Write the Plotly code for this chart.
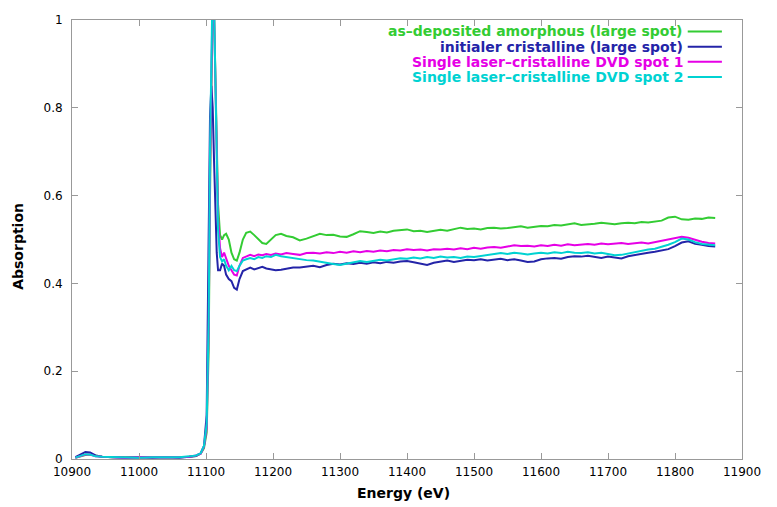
import plotly.graph_objects as go

# ---- data ----
energy_edge = [10905, 10912, 10920, 10927, 10935, 10945, 10960, 10980, 11000, 11020,
               11040, 11060, 11075, 11085, 11092, 11097, 11101, 11104, 11106, 11108,
               11110, 11112, 11114, 11116, 11118, 11121, 11124, 11127, 11130, 11134,
               11138, 11142, 11146, 11150, 11155, 11160, 11166, 11172, 11178, 11184,
               11190, 11197, 11204, 11212, 11220, 11230]
energy_post = list(range(11240, 11861, 10))
energy = energy_edge + energy_post

amorphous = [0.003, 0.006, 0.009, 0.010, 0.007, 0.005, 0.004, 0.004, 0.003, 0.004,
             0.003, 0.004, 0.005, 0.007, 0.012, 0.025, 0.06, 0.25, 0.6, 0.9,
             1.06, 1.02, 0.88, 0.72, 0.58, 0.51, 0.5, 0.51, 0.513, 0.5,
             0.47, 0.455, 0.452, 0.47, 0.5, 0.515, 0.518, 0.51, 0.5, 0.492,
             0.49, 0.5, 0.51, 0.513, 0.508, 0.505,
             0.498, 0.502, 0.508, 0.513, 0.510, 0.511, 0.507, 0.506, 0.512, 0.519,
             0.517, 0.515, 0.518, 0.516, 0.520, 0.521, 0.523, 0.519, 0.520, 0.517,
             0.519, 0.522, 0.520, 0.524, 0.527, 0.524, 0.525, 0.523, 0.526, 0.527,
             0.525, 0.526, 0.528, 0.530, 0.527, 0.529, 0.531, 0.530, 0.533, 0.532,
             0.535, 0.537, 0.533, 0.534, 0.536, 0.538, 0.536, 0.535, 0.537, 0.538,
             0.537, 0.540, 0.539, 0.541, 0.543, 0.550, 0.552, 0.546, 0.545, 0.548,
             0.547, 0.550, 0.549]

initial = [0.004, 0.010, 0.016, 0.015, 0.008, 0.005, 0.004, 0.003, 0.004, 0.003,
           0.004, 0.003, 0.005, 0.007, 0.013, 0.03, 0.1, 0.45, 0.78, 0.85,
           0.8, 0.68, 0.56, 0.47, 0.43, 0.43, 0.445, 0.44, 0.42, 0.41,
           0.405, 0.39, 0.386, 0.41, 0.428, 0.432, 0.436, 0.432, 0.435, 0.438,
           0.434, 0.432, 0.43, 0.431, 0.433, 0.436,
           0.436, 0.438, 0.440, 0.437, 0.442, 0.445, 0.443, 0.446, 0.444, 0.447,
           0.445, 0.448, 0.446, 0.449, 0.447, 0.450, 0.451, 0.448, 0.445, 0.442,
           0.447, 0.450, 0.452, 0.449, 0.451, 0.454, 0.453, 0.455, 0.452, 0.454,
           0.456, 0.453, 0.455, 0.452, 0.449, 0.450, 0.455, 0.457, 0.458, 0.456,
           0.460, 0.462, 0.461, 0.463, 0.460, 0.458, 0.461, 0.459, 0.457, 0.462,
           0.465, 0.468, 0.470, 0.472, 0.475, 0.478, 0.485, 0.493, 0.496, 0.490,
           0.488, 0.485, 0.484]

spot1 = [0.003, 0.007, 0.010, 0.010, 0.006, 0.005, 0.004, 0.003, 0.004, 0.004,
         0.003, 0.004, 0.005, 0.008, 0.012, 0.028, 0.07, 0.3, 0.65, 0.95,
         1.08, 1.02, 0.85, 0.68, 0.55, 0.48, 0.46, 0.47, 0.455, 0.44,
         0.43, 0.42, 0.418, 0.44, 0.458, 0.462, 0.465, 0.462, 0.466, 0.464,
         0.467, 0.465, 0.468, 0.466, 0.469, 0.467,
         0.465, 0.469, 0.470, 0.468, 0.471, 0.469, 0.472, 0.470, 0.473, 0.471,
         0.474, 0.472, 0.475, 0.473, 0.476, 0.475, 0.478, 0.476, 0.477, 0.475,
         0.478, 0.477, 0.479, 0.477, 0.480, 0.478, 0.481, 0.479, 0.482, 0.483,
         0.481, 0.484, 0.487, 0.485, 0.486, 0.484, 0.487, 0.485, 0.488, 0.486,
         0.489, 0.487, 0.488, 0.490, 0.488, 0.491, 0.489, 0.490, 0.492, 0.490,
         0.491, 0.493, 0.491, 0.494, 0.496, 0.499, 0.503, 0.506, 0.504, 0.499,
         0.495, 0.492, 0.491]

spot2 = [0.003, 0.007, 0.011, 0.010, 0.006, 0.005, 0.004, 0.004, 0.003, 0.004,
         0.004, 0.004, 0.006, 0.008, 0.013, 0.03, 0.08, 0.32, 0.7, 0.98,
         1.1, 1.04, 0.86, 0.66, 0.52, 0.46, 0.45, 0.455, 0.44, 0.43,
         0.44, 0.43, 0.428, 0.44, 0.452, 0.455, 0.458, 0.455, 0.46, 0.458,
         0.462, 0.46, 0.465, 0.462, 0.46, 0.458,
         0.456, 0.453, 0.452, 0.449, 0.447, 0.444, 0.442, 0.445, 0.448, 0.451,
         0.449, 0.452, 0.454, 0.452, 0.455, 0.457, 0.456, 0.459, 0.457, 0.460,
         0.458, 0.461, 0.459, 0.460, 0.458, 0.461, 0.460, 0.462, 0.464, 0.467,
         0.469, 0.467, 0.470, 0.468, 0.466, 0.468, 0.470, 0.468, 0.471, 0.469,
         0.472, 0.470, 0.469, 0.471, 0.468, 0.470, 0.467, 0.464, 0.465, 0.468,
         0.472, 0.475, 0.477, 0.479, 0.483, 0.488, 0.494, 0.502, 0.500, 0.494,
         0.490, 0.488, 0.487]

series_names = ["as\u2013deposited amorphous (large spot)",
                "initialer cristalline (large spot)",
                "Single laser\u2013cristalline DVD spot 1",
                "Single laser\u2013cristalline DVD spot 2"]
series_values = [amorphous, initial, spot1, spot2]
series_colors = ["#33cc33", "#2424a8", "#e600e6", "#00d2d2"]

x_ticks = list(range(10900, 11901, 100))
y_ticks = [0, 0.2, 0.4, 0.6, 0.8, 1]
y_ticktext = ["0", "0.2", "0.4", "0.6", "0.8", "1"]

# ---- figure ----
fig = go.Figure()
for name, vals, col in zip(series_names, series_values, series_colors):
    fig.add_trace(go.Scatter(x=energy, y=vals, mode="lines", name=name,
                             line=dict(color=col, width=2), showlegend=False))

font_family = "DejaVu Sans, Arial, sans-serif"
axis_col = "#999999"

# gnuplot-like key: right-aligned text followed by a line sample
key_y = [0.974, 0.939, 0.905, 0.870]
for name, col, ky in zip(series_names, series_colors, key_y):
    fig.add_annotation(x=0.915, y=ky, xref="paper", yref="paper", text="<b>%s</b>" % name,
                       showarrow=False, xanchor="right", yanchor="middle",
                       font=dict(family=font_family, size=14, color=col))
    fig.add_shape(type="line", xref="paper", yref="paper", x0=0.919, x1=0.97, y0=ky, y1=ky,
                  line=dict(color=col, width=2))

fig.add_annotation(x=0.495, y=-0.078, xref="paper", yref="paper", text="<b>Energy (eV)</b>",
                   showarrow=False, xanchor="center", yanchor="middle",
                   font=dict(family=font_family, size=14, color="black"))
fig.add_annotation(x=-0.081, y=0.485, xref="paper", yref="paper", text="<b>Absorption</b>",
                   showarrow=False, xanchor="center", yanchor="middle", textangle=-90,
                   font=dict(family=font_family, size=14, color="black"))

fig.update_layout(
    width=777, height=507,
    margin=dict(l=64, r=43, t=5, b=56),
    paper_bgcolor="white", plot_bgcolor="white",
    font=dict(family=font_family, size=13, color="black"),
)
fig.update_xaxes(range=[10900, 11900], tickvals=x_ticks, tickformat="d",
                 showline=True, linecolor=axis_col, linewidth=1, mirror="ticks",
                 ticks="inside", ticklen=6, tickcolor=axis_col, showgrid=False, zeroline=False,
                 ticklabelstandoff=2, ticklabeloverflow="allow",
                 tickfont=dict(family=font_family, size=12, color="black"))
fig.update_yaxes(range=[0, 1], tickvals=y_ticks, ticktext=y_ticktext,
                 showline=True, linecolor=axis_col, linewidth=1, mirror="ticks",
                 ticks="inside", ticklen=6, tickcolor=axis_col, showgrid=False, zeroline=False,
                 ticklabelstandoff=6, ticklabeloverflow="allow",
                 tickfont=dict(family=font_family, size=12, color="black"))

fig.write_html("out.html")
